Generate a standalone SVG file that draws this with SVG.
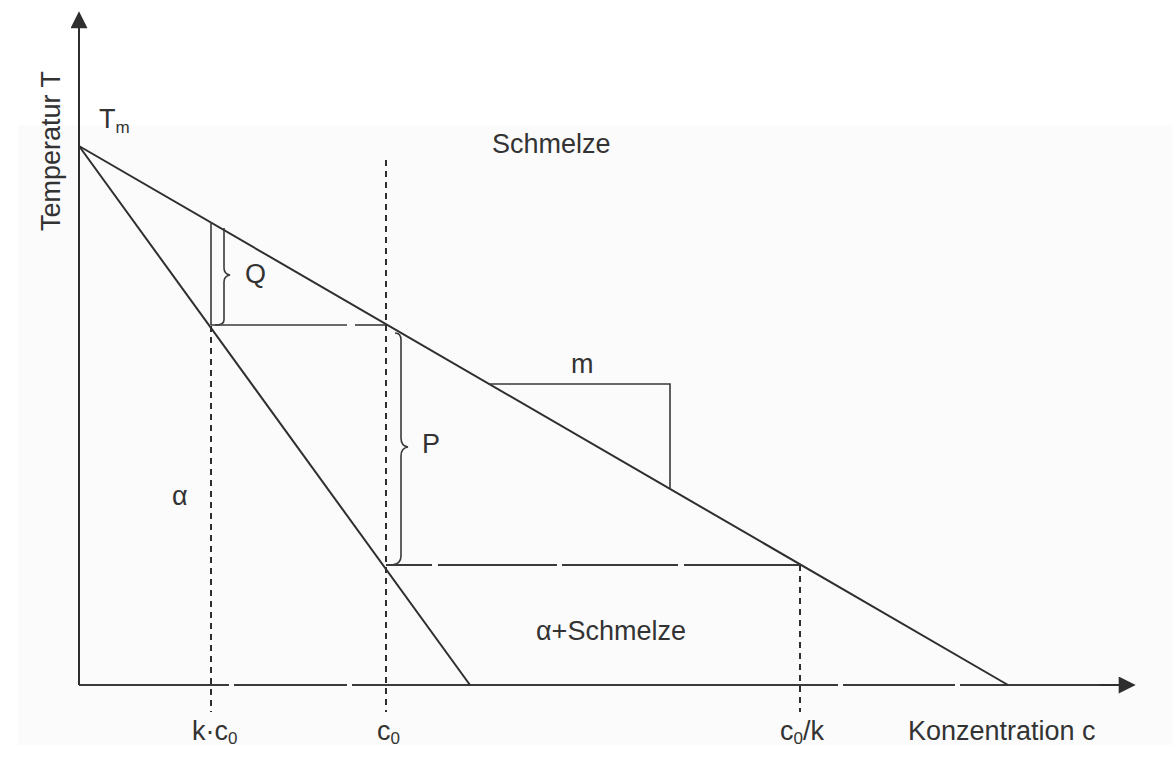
<svg xmlns="http://www.w3.org/2000/svg" width="1173" height="764" viewBox="0 0 1173 764">
<style>
.ln{stroke:#2e2e2e;stroke-width:2;fill:none}
.th{stroke:#3a3a3a;stroke-width:1.6;fill:none}
.dash{stroke:#2e2e2e;stroke-width:2;fill:none;stroke-dasharray:6 5}
.gap{stroke:#3a3a3a;stroke-width:1.8;fill:none}
.t{font-family:"Liberation Sans",Arial,sans-serif;font-size:27px;fill:#333}
.sub{font-size:17px}
</style>
<defs>
<marker id="ah2" viewBox="0 0 10 10" refX="9" refY="5" markerWidth="19" markerHeight="17" markerUnits="userSpaceOnUse" orient="auto">
<path d="M0,0 L10,5 L0,10 z" fill="#2e2e2e"/>
</marker>
</defs>
<rect width="1173" height="764" fill="#ffffff"/>
<rect x="18" y="125" width="1155" height="620" fill="#fbfbfb"/>
<g id="connectors">
<!-- axes -->
<line class="ln" x1="79" y1="685" x2="79" y2="13" marker-end="url(#ah2)"/>
<line class="gap" x1="79" y1="685" x2="1110" y2="685" style="stroke-dasharray:150 5 113 5 486 5 112 5 200"/>
<line class="ln" x1="1100" y1="685" x2="1134" y2="685" marker-end="url(#ah2)"/>
<!-- liquidus and solidus -->
<line class="ln" x1="79" y1="146" x2="1008" y2="685"/>
<line class="ln" x1="79" y1="146" x2="470" y2="685"/>
<!-- dashed verticals -->
<line class="dash" x1="386" y1="160" x2="386" y2="712"/>
<line class="dash" x1="211" y1="326" x2="211" y2="712"/>
<line class="dash" x1="800" y1="565" x2="800" y2="712"/>
<!-- horizontals -->
<line class="th" x1="211" y1="325" x2="347" y2="325"/>
<line class="th" x1="355" y1="325" x2="386" y2="325"/>
<line class="gap" x1="386" y1="565" x2="800" y2="565" style="stroke-dasharray:46 6 119 5 116 6 200"/>
<!-- Q construction -->
<line class="th" x1="211" y1="222" x2="211" y2="325"/>
<path class="th" d="M224,228 L224,268 Q224,274 230,275 Q224,276 224,282 L224,320 Q224,325 215,325"/>
<!-- P brace -->
<path class="th" d="M395,333 Q401,333 401,340 L401,438 Q401,446 408,447 Q401,448 401,456 L401,556 Q401,564 392,565"/>
<!-- m triangle -->
<polyline class="th" points="490,384 670,384 670,488"/>
</g>
<g id="label-Tm"><text class="t" x="99" y="128">T<tspan class="sub" dy="5">m</tspan></text></g>
<g id="label-T"><text class="t" transform="translate(60,151) rotate(-90)" text-anchor="middle">Temperatur T</text></g>
<g id="label-Schmelze"><text class="t" x="492" y="153">Schmelze</text></g>
<g id="label-Q"><text class="t" x="245" y="283">Q</text></g>
<g id="label-P"><text class="t" x="422" y="453">P</text></g>
<g id="label-m"><text class="t" x="571" y="373">m</text></g>
<g id="label-alpha"><text class="t" x="172" y="505">α</text></g>
<g id="label-alphaS"><text class="t" x="536" y="640">α+Schmelze</text></g>
<g id="label-kc0"><text class="t" x="192" y="740">k·c<tspan class="sub" dy="4">0</tspan></text></g>
<g id="label-c0"><text class="t" x="377" y="740">c<tspan class="sub" dy="4">0</tspan></text></g>
<g id="label-c0k"><text class="t" x="780" y="740">c<tspan class="sub" dy="4">0</tspan><tspan dy="-4">/k</tspan></text></g>
<g id="label-K"><text class="t" x="908" y="740">Konzentration c</text></g>
</svg>
